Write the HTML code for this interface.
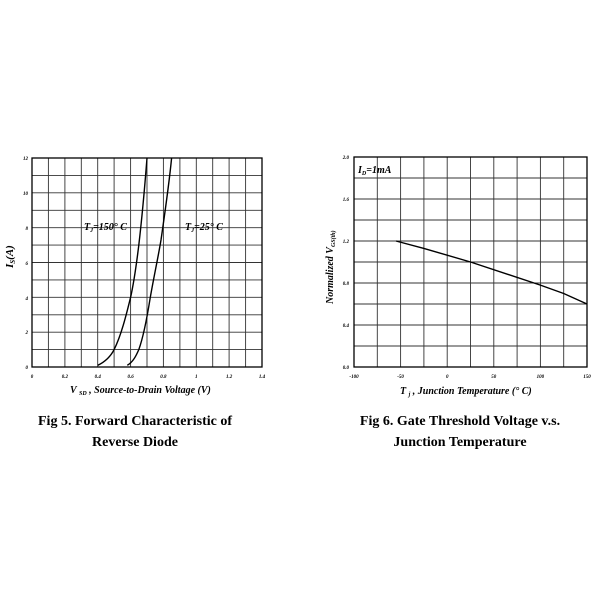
<!DOCTYPE html>
<html><head><style>
body{margin:0;background:#fff;}
svg{display:block;}
text{font-family:"Liberation Serif",serif;font-weight:bold;fill:#000;}
</style></head><body>
<svg width="600" height="600" viewBox="0 0 600 600" xmlns="http://www.w3.org/2000/svg">
<g stroke="#333" stroke-width="0.9" fill="none">
<path d="M48.4 158V367M64.9 158V367M81.3 158V367M97.7 158V367M114.1 158V367M130.6 158V367M147 158V367M163.4 158V367M179.9 158V367M196.3 158V367M212.7 158V367M229.1 158V367M245.6 158V367"/>
<path d="M32 175.4H262M32 192.8H262M32 210.3H262M32 227.7H262M32 245.1H262M32 262.5H262M32 279.9H262M32 297.3H262M32 314.8H262M32 332.2H262M32 349.6H262"/>
<path d="M377.3 157V367M400.6 157V367M423.9 157V367M447.2 157V367M470.5 157V367M493.8 157V367M517.1 157V367M540.4 157V367M563.7 157V367"/>
<path d="M354 178H587M354 199H587M354 220H587M354 241H587M354 262H587M354 283H587M354 304H587M354 325H587M354 346H587"/>
</g>
<rect x="32" y="158" width="230" height="209" fill="none" stroke="#000" stroke-width="1.3"/>
<rect x="354" y="157" width="233" height="210" fill="none" stroke="#000" stroke-width="1.3"/>
<g stroke="#000" stroke-width="1.4" fill="none">
<path d="M97.7 365.3 C105 362 111 356 114.1 349.6 C121 336 126 316 130.6 297.3 C134 282 136.5 264 138.8 245.1 C141.5 222 144.5 190 147 158"/>
<path d="M127.3 365.3 C133 362 136 356 138.8 349.6 C143 338 147 318 150.3 297.3 C154 276 158 258 161 240 C165 212 169 185 171.6 158"/>
<path d="M396 241 L423.9 248.4 L470.5 262 L540.4 285.1 L563.7 293.5 L587 304"/>
</g>
<g font-size="5" font-style="italic" text-anchor="end">
<text x="28" y="160">12</text><text x="28" y="195">10</text><text x="28" y="230">8</text><text x="28" y="265">6</text><text x="28" y="300">4</text><text x="28" y="334">2</text><text x="28" y="369">0</text>
</g>
<g font-size="5" font-style="italic" text-anchor="middle">
<text x="32" y="378">0</text><text x="64.9" y="378">0.2</text><text x="97.7" y="378">0.4</text><text x="130.6" y="378">0.6</text><text x="163.4" y="378">0.8</text><text x="196.3" y="378">1</text><text x="229.1" y="378">1.2</text><text x="262" y="378">1.4</text>
<text x="354" y="378">-100</text><text x="400.6" y="378">-50</text><text x="447.2" y="378">0</text><text x="493.8" y="378">50</text><text x="540.4" y="378">100</text><text x="587" y="378">150</text>
</g>
<g font-size="5" font-style="italic" text-anchor="end">
<text x="349" y="159">2.0</text><text x="349" y="201">1.6</text><text x="349" y="243">1.2</text><text x="349" y="285">0.8</text><text x="349" y="327">0.4</text><text x="349" y="369">0.0</text>
</g>
<g font-style="italic">
<text x="84" y="230" font-size="10">T<tspan font-size="6" dy="2">J</tspan><tspan dy="-2">=150° C</tspan></text>
<text x="185" y="230" font-size="10">T<tspan font-size="6" dy="2">J</tspan><tspan dy="-2">=25° C</tspan></text>
<text x="358" y="173" font-size="10">I<tspan font-size="6" dy="2">D</tspan><tspan dy="-2">=1mA</tspan></text>
<text transform="translate(13,268) rotate(-90)" font-size="11">I<tspan font-size="7" dy="2">S</tspan><tspan dy="-2">(A)</tspan></text>
<text transform="translate(333,304) rotate(-90)" font-size="10">Normalized V<tspan font-size="6" dy="2">GS(th)</tspan></text>
<text x="70" y="393" font-size="10">V <tspan font-size="6" dy="2">SD</tspan><tspan dy="-2"> , Source-to-Drain Voltage (V)</tspan></text>
<text x="400" y="394" font-size="10">T <tspan font-size="6" dy="2">j</tspan><tspan dy="-2"> , Junction Temperature (° C)</tspan></text>
</g>
<g font-size="14" text-anchor="middle">
<text x="135" y="425">Fig 5. Forward Characteristic of</text>
<text x="135" y="446">Reverse Diode</text>
<text x="460" y="425">Fig 6. Gate Threshold Voltage v.s.</text>
<text x="460" y="446">Junction Temperature</text>
</g>
</svg>
</body></html>
